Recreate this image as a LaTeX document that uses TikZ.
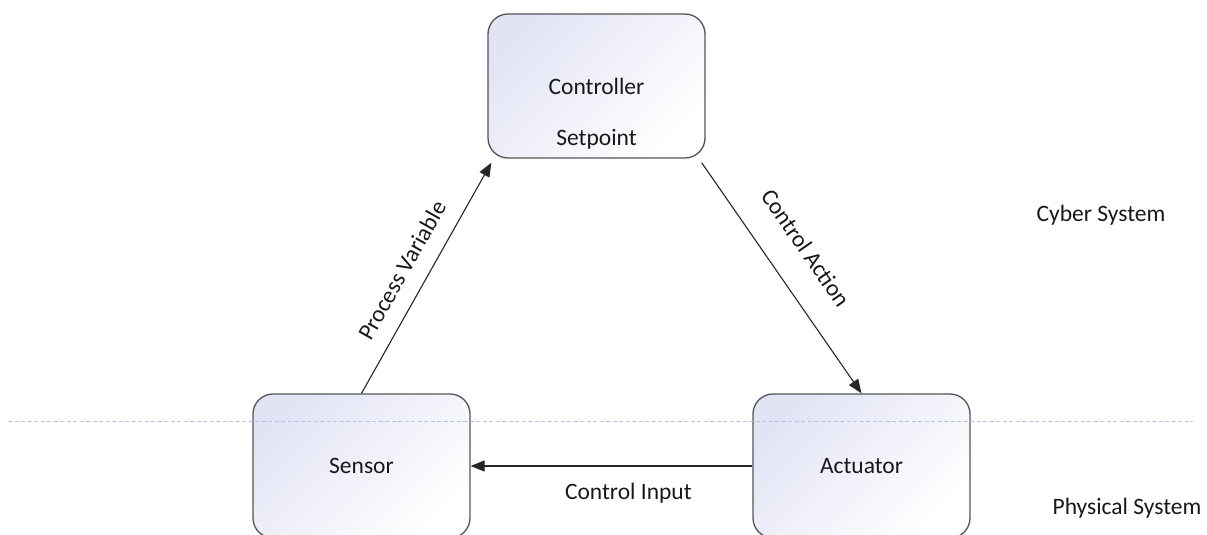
\documentclass[tikz,border=0pt]{standalone}
\usepackage{fontspec}
\setmainfont{Carlito}
\usetikzlibrary{arrows.meta}
\definecolor{boxedge}{RGB}{85,85,85}
\definecolor{boxtint}{RGB}{226,228,245}
\definecolor{txt}{RGB}{25,25,25}
\definecolor{divider}{RGB}{178,198,235}
\tikzset{
  block/.style={draw=boxedge, line width=1.3pt, rounded corners=20pt,
    minimum width=217pt, minimum height=144pt,
    shading=axis, top color=boxtint, bottom color=white, shading angle=45,
    text=txt, font=\fontsize{23.5}{28}\selectfont},
  flow/.style={draw=black!85, line width=1.1pt, -{Triangle[length=14pt,width=11pt]}},
  tag/.style={text=txt, font=\fontsize{23.5}{28}\selectfont},
  region/.style={text=txt, font=\fontsize{23.5}{28}\selectfont}
}
\begin{document}
\begin{tikzpicture}[x=1pt, y=-1pt]
  \useasboundingbox (0,0) rectangle (1207,535);
  \clip (0,0) rectangle (1207,535);
  \fill[white] (0,0) rectangle (1207,535);

  % the three blocks of the control loop
  \node[block] (ctrl) at (596.5,86) {Controller};
  \node[tag, anchor=base] (sp) at (596.5,145) {Setpoint};
  \node[block] (sensor) at (361.5,466) {Sensor};
  \node[block] (act) at (861.5,466) {Actuator};

  % signal flow between the blocks
  \draw[flow] (sensor.north) -- node[tag, sloped, above=13pt, pos=0.48] {Process Variable}
    ([shift={(4pt,-4pt)}]ctrl.south west);
  \draw[flow] ([shift={(-4pt,-4pt)}]ctrl.south east) -- node[tag, sloped, above=25pt, pos=0.462] {Control Action}
    (act.north);
  \draw[flow] (act.west) -- node[tag, below=13pt, pos=0.44] {Control Input} (sensor.east);

  % boundary between cyber and physical layers
  \coordinate (dl) at (8,421);
  \coordinate (dr) at (1193,421);
  \draw[divider, line width=0.8pt, dash pattern=on 4pt off 2.5pt] (dl) -- (dr);

  \node[region] (cyber) at (1101,215) {Cyber System};
  \node[region] (phys) at (1127,508) {Physical System};
\end{tikzpicture}
\end{document}
